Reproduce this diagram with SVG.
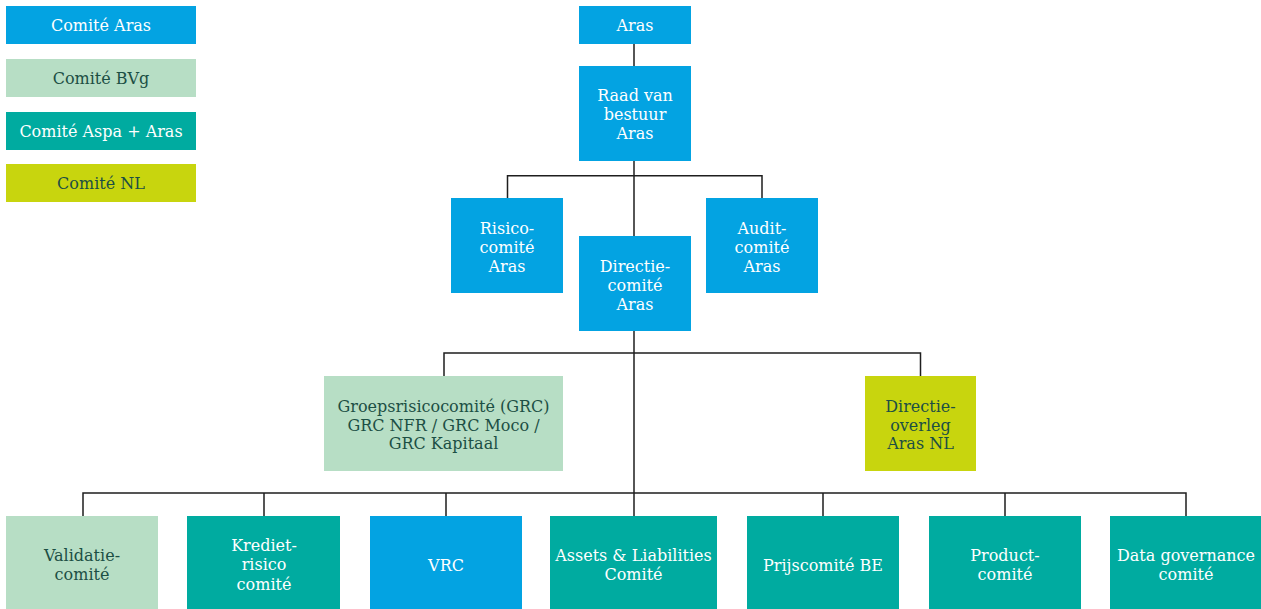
<svg xmlns="http://www.w3.org/2000/svg" width="1261" height="609" viewBox="0 0 1261 609">
<style>
.b{fill:#03a3e2}.g{fill:#b7dec5}.t{fill:#00aba0}.l{fill:#c8d50e}
text{font-family:"DejaVu Serif","Liberation Serif",serif;font-size:16px;text-anchor:middle}
.w{fill:#ffffff}.d{fill:#1c4f44}
.c{fill:none;stroke:#1e1e1e;stroke-width:1.5}
</style>
<rect width="1261" height="609" fill="#ffffff"/>
<g id="legend">
<g id="leg-aras"><rect class="b" x="6" y="6" width="190" height="38"/><text class="w" x="101" y="30.5">Comité Aras</text></g>
<g id="leg-bvg"><rect class="g" x="6" y="59" width="190" height="38"/><text class="d" x="101" y="83.5">Comité BVg</text></g>
<g id="leg-aspa"><rect class="t" x="6" y="112" width="190" height="38"/><text class="w" x="101" y="136.5">Comité Aspa + Aras</text></g>
<g id="leg-nl"><rect class="l" x="6" y="164" width="190" height="38"/><text class="d" x="101" y="188.5">Comité NL</text></g>
</g>
<g id="connectors">
<path class="c" d="M634 44V516"/>
<path class="c" d="M507.5 198V175.7H762V198"/>
<path class="c" d="M444 376V353H920.5V376"/>
<path class="c" d="M83 516V493H1186V516"/>
<path class="c" d="M264 493V516M446 493V516M823 493V516M1005 493V516"/>
</g>
<g id="aras"><rect class="b" x="579" y="6" width="112" height="38"/><text class="w" x="635" y="30.5">Aras</text></g>
<g id="raad"><rect class="b" x="579" y="66" width="112" height="95"/><text class="w" x="635"><tspan x="635" y="100.5">Raad van</tspan><tspan x="635" y="119.5">bestuur</tspan><tspan x="635" y="138.5">Aras</tspan></text></g>
<g id="risico"><rect class="b" x="451" y="198" width="112" height="95"/><text class="w"><tspan x="507" y="233.5">Risico-</tspan><tspan x="507" y="252.5">comité</tspan><tspan x="507" y="271.5">Aras</tspan></text></g>
<g id="audit"><rect class="b" x="706" y="198" width="112" height="95"/><text class="w"><tspan x="762" y="233.5">Audit-</tspan><tspan x="762" y="252.5">comité</tspan><tspan x="762" y="271.5">Aras</tspan></text></g>
<g id="directie"><rect class="b" x="579" y="236" width="112" height="95"/><text class="w"><tspan x="635" y="271.5">Directie-</tspan><tspan x="635" y="290.5">comité</tspan><tspan x="635" y="309.5">Aras</tspan></text></g>
<g id="grc"><rect class="g" x="324" y="376" width="239" height="95"/><text class="d"><tspan x="443.5" y="412">Groepsrisicocomité (GRC)</tspan><tspan x="443.5" y="430.5">GRC NFR / GRC Moco /</tspan><tspan x="443.5" y="449">GRC Kapitaal</tspan></text></g>
<g id="overleg"><rect class="l" x="865" y="376" width="111" height="95"/><text class="d"><tspan x="920.5" y="412">Directie-</tspan><tspan x="920.5" y="430.5">overleg</tspan><tspan x="920.5" y="449">Aras NL</tspan></text></g>
<g id="validatie"><rect class="g" x="6" y="516" width="152" height="96"/><text class="d"><tspan x="82" y="560.5">Validatie-</tspan><tspan x="82" y="579.5">comité</tspan></text></g>
<g id="krediet"><rect class="t" x="187" y="516" width="153" height="96"/><text class="w"><tspan x="264" y="550.5">Krediet-</tspan><tspan x="264" y="570">risico</tspan><tspan x="264" y="589.5">comité</tspan></text></g>
<g id="vrc"><rect class="b" x="370" y="516" width="152" height="96"/><text class="w" x="446" y="570.5">VRC</text></g>
<g id="alm"><rect class="t" x="550" y="516" width="167" height="96"/><text class="w"><tspan x="633.5" y="560.5">Assets &amp; Liabilities</tspan><tspan x="633.5" y="579.5">Comité</tspan></text></g>
<g id="prijs"><rect class="t" x="747" y="516" width="152" height="96"/><text class="w" x="823" y="570.5">Prijscomité BE</text></g>
<g id="product"><rect class="t" x="929" y="516" width="152" height="96"/><text class="w"><tspan x="1005" y="560.5">Product-</tspan><tspan x="1005" y="579.5">comité</tspan></text></g>
<g id="data"><rect class="t" x="1110" y="516" width="152" height="96"/><text class="w"><tspan x="1186" y="560.5">Data governance</tspan><tspan x="1186" y="579.5">comité</tspan></text></g>
</svg>
